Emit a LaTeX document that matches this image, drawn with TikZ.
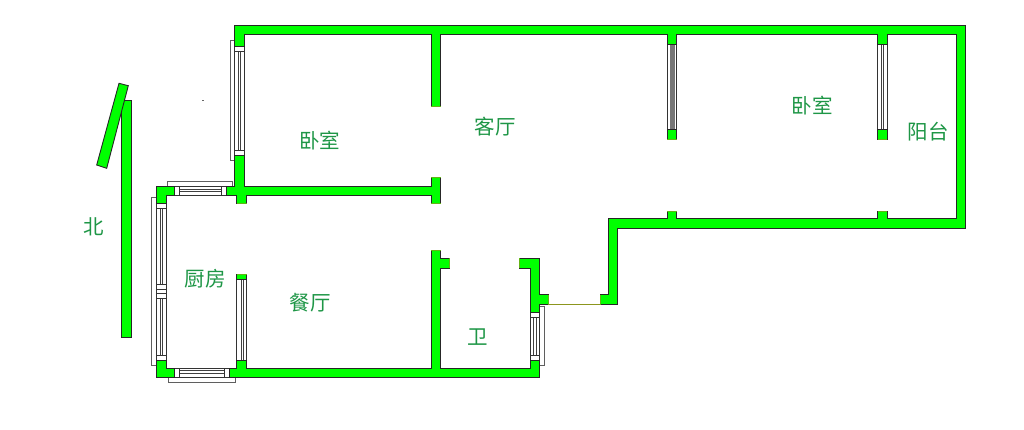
\documentclass[tikz,border=0pt]{standalone}
\usepackage{fontspec}
\newfontfamily\cjk{Noto Sans CJK SC}
\definecolor{wallgreen}{RGB}{0, 255, 0}
\definecolor{labelgreen}{RGB}{30, 150, 70}
\definecolor{sillgray}{RGB}{95, 95, 95}
\definecolor{doorolive}{RGB}{140, 150, 30}
\tikzset{
    wall/.style={fill=wallgreen, draw=black!85, line width=0.9pt, line join=miter},
    winbox/.style={fill=white, draw=black!80, line width=0.9pt},
    winline/.style={draw=black!75, line width=0.9pt},
    sill/.style={fill=white, draw=sillgray, line width=1pt},
    wallend/.style={draw=doorolive!70!wallgreen, line width=0.9pt},
    roomlabel/.style={text=labelgreen, font=\cjk\fontsize{20.5}{20.5}\selectfont, inner sep=0pt}
}
\begin{document}
\begin{tikzpicture}[x=1pt, y=-1pt]
    \useasboundingbox (0,0) rectangle (1024,429);
    % outer sills
    \draw[sill] (234.5,40) -- (230,40) -- (230,160.5) -- (234.5,160.5);
    \draw[sill] (167.7,186) rectangle (232,181.3);
    \draw[sill] (156.7,197.3) -- (151.7,197.3) -- (151.7,365.3) -- (156.7,365.3);
    \draw[sill] (168,377.5) rectangle (235,382.7);
    \draw[sill] (539.7,306) rectangle (544.7,365.7);
    % vertical windows
    \foreach \xa/\xb/\xc/\xd/\ya/\yb in {
        234.5/238.3/240.7/244.5/46.7/155,
        156.7/160/162.3/166/203/360,
        236.7/241/243.3/246.7/279.3/360,
        530/533.3/536/539.7/312.3/360,
        877.7/881.7/883.3/887.3/44.3/129}
    {
        \draw[winbox] (\xa,\ya) rectangle (\xd,\yb);
        \draw[winline] (\xb,\ya) -- (\xb,\yb) (\xc,\ya) -- (\xc,\yb);
    }
    \draw[winbox] (667.3,44.3) rectangle (676.7,129);
    \fill[sillgray!85] (670,44.3) rectangle (675,129);
    % horizontal windows
    \foreach \xa/\xb/\ya/\yb/\yc/\yd in {
        174.7/226.5/186/189/191.7/195,
        174.7/229.3/368.3/370/373/377.5}
    {
        \draw[winbox] (\xa,\ya) rectangle (\xb,\yd);
        \draw[winline] (\xa,\yb) -- (\xb,\yb) (\xa,\yc) -- (\xb,\yc);
    }
    % window end boxes
    \foreach \xa/\xb/\ya/\yb in {
        234.5/244.5/46.7/51, 234.5/244.5/150/155,
        174.7/179.7/186/195, 221.3/226.5/186/195,
        174.7/179.3/368.3/377.5, 224/229.3/368.3/377.5,
        156.7/166/203/208, 156.7/166/355/360,
        156.7/166/284.3/289, 156.7/166/289/293.5, 156.7/166/293.5/298.3,
        530/539.7/312.3/317, 530/539.7/355/360}
    {
        \draw[winbox] (\xa,\ya) rectangle (\xb,\yb);
    }
    % door line
    \coordinate (doorL) at (548.3,304.4);
    \coordinate (doorR) at (600,304.4);
    \draw[doorolive, line width=0.8pt] (doorL) -- (doorR);
    % walls
    \draw[wall] (234.5,25) -- (965.3,25) -- (965.3,228.3) -- (617.7,228.3) -- (617.7,304.7)
        -- (600,304.7) -- (600,294.7) -- (608.3,294.7) -- (608.3,218.3)
        -- (667.3,218.3) -- (667.3,211) -- (676.7,211) -- (676.7,218.3)
        -- (877.7,218.3) -- (877.7,211) -- (887.3,211) -- (887.3,218.3)
        -- (956,218.3) -- (956,34.4)
        -- (887.3,34.4) -- (887.3,44.3) -- (877.7,44.3) -- (877.7,34.4)
        -- (676.7,34.4) -- (676.7,44.3) -- (667.3,44.3) -- (667.3,34.4)
        -- (440.7,34.4) -- (440.7,106) -- (431,106) -- (431,34.4)
        -- (244.5,34.4) -- (244.5,46.7) -- (234.5,46.7) -- cycle;
    \draw[wall] (234.5,155) -- (244.5,155) -- (244.5,186.5) -- (431,186.5) -- (431,177.3)
        -- (440.7,177.3) -- (440.7,203.3) -- (431,203.3) -- (431,195) -- (246.7,195)
        -- (246.7,203) -- (236.7,203) -- (236.7,195) -- (226.5,195) -- (226.5,186.5)
        -- (234.5,186.5) -- cycle;
    \draw[wall] (431,250.7) -- (440.7,250.7) -- (440.7,258.3) -- (449.3,258.3) -- (449.3,268.3)
        -- (440.7,268.3) -- (440.7,368.3) -- (530,368.3) -- (530,360) -- (539.7,360)
        -- (539.7,377.5) -- (229.3,377.5) -- (229.3,368.3) -- (236.7,368.3) -- (236.7,360)
        -- (246.7,360) -- (246.7,368.3) -- (431,368.3) -- cycle;
    \draw[wall] (519.3,258.3) -- (539.7,258.3) -- (539.7,294.7) -- (548.3,294.7) -- (548.3,304.7)
        -- (539.7,304.7) -- (539.7,312.3) -- (530,312.3) -- (530,268.3) -- (519.3,268.3) -- cycle;
    \draw[wall] (156.7,186) -- (174.7,186) -- (174.7,195) -- (166,195) -- (166,203)
        -- (156.7,203) -- cycle;
    \draw[wall] (156.7,360) -- (166,360) -- (166,368.3) -- (174.7,368.3) -- (174.7,377.5)
        -- (156.7,377.5) -- cycle;
    \draw[wall] (236.7,274.7) rectangle (246.7,279.3);
    \draw[wall] (667.3,129) rectangle (676.7,139.3);
    \draw[wall] (877.7,129) rectangle (887.3,139.3);
    % wall ends
    \foreach \xa/\xb/\ya/\yb in {
        431/440.7/106/106, 431/440.7/177.3/177.3, 431/440.7/203.3/203.3,
        236.7/246.7/203/203, 431/440.7/250.7/250.7, 449.3/449.3/258.3/268.3,
        519.3/519.3/258.3/268.3, 548.3/548.3/294.7/304.7, 600/600/294.7/304.7,
        667.3/676.7/211/211, 877.7/887.3/211/211,
        667.3/676.7/139.3/139.3, 877.7/887.3/139.3/139.3, 236.7/246.7/274.7/274.7}
    {
        \draw[wallend] (\xa,\ya) -- (\xb,\yb);
    }
    % north mark
    \draw[wall] (121.7,100) rectangle (131,337);
    \draw[wall] (119,83.3) -- (128.3,85.7) -- (106.7,168.3) -- (96.7,165) -- cycle;
    \fill[black!60] (201.5,100) rectangle (204,101);
    % labels
    \node[roomlabel] (bedroomW) at (319.5,141) {卧室};
    \node[roomlabel] (living) at (495,127) {客厅};
    \node[roomlabel] (bedroomE) at (812,106) {卧室};
    \node[roomlabel] (balcony) at (928,132) {阳台};
    \node[roomlabel] (north) at (94,227) {北};
    \node[roomlabel] (kitchen) at (205,279) {厨房};
    \node[roomlabel] (dining) at (310,303) {餐厅};
    \node[roomlabel] (bath) at (478,337) {卫};
\end{tikzpicture}
\end{document}
